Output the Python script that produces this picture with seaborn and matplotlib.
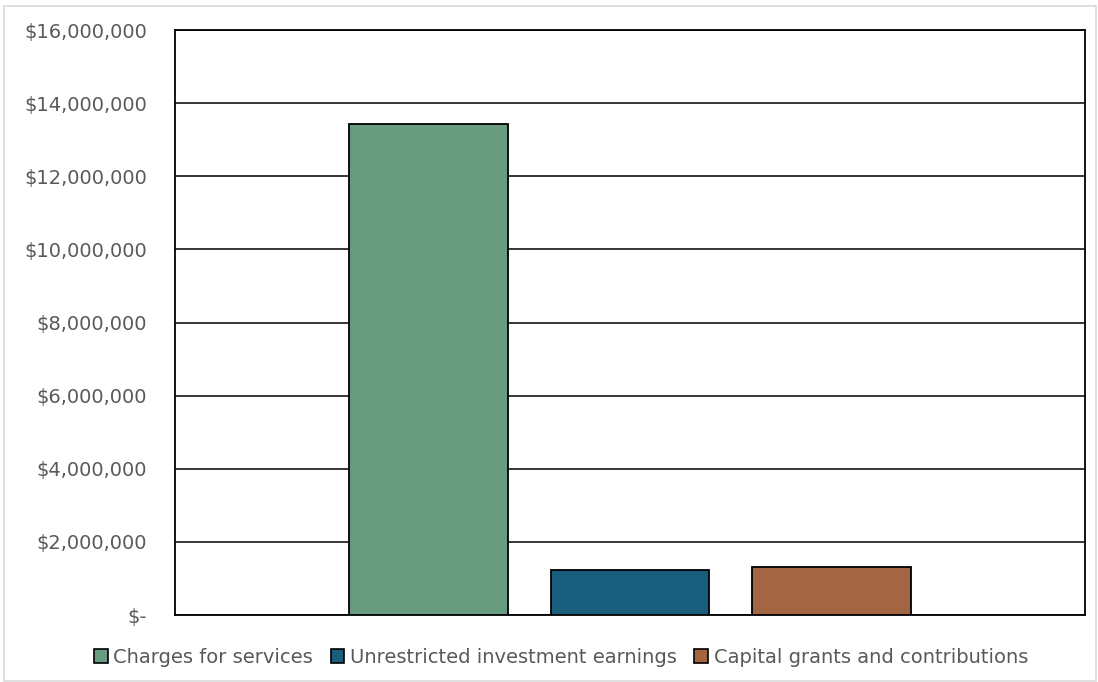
import matplotlib
matplotlib.use("Agg")
import matplotlib.pyplot as plt
import pandas as pd
import seaborn as sns
from matplotlib.patches import Rectangle
from matplotlib.ticker import FuncFormatter

# values
series = [
    "Charges for services",
    "Unrestricted investment earnings",
    "Capital grants and contributions",
]
amounts = [13_420_000, 1_230_000, 1_300_000]
colors = ["#699B81", "#1A5E7E", "#A36542"]
yticks = list(range(0, 16_000_001, 2_000_000))

df = pd.DataFrame({"group": [""] * len(series), "series": series, "amount": amounts})

sns.set_style("white")
plt.rcParams["font.family"] = ["DejaVu Sans"]
text_color = "#595959"

fig = plt.figure(figsize=(10.98, 6.82), dpi=100)
ax = fig.add_axes([0.1594, 0.0982, 0.8288, 0.8578])

sns.barplot(
    data=df, x="group", y="amount", hue="series", hue_order=series,
    palette=colors, saturation=1, width=0.663, gap=0.21,
    edgecolor="black", linewidth=1.3, legend=False, ax=ax, zorder=3,
)

ax.set_ylim(0, 16_000_000)
ax.set_xlim(-0.5, 0.5)
ax.set_yticks(yticks)
ax.yaxis.set_major_formatter(
    FuncFormatter(lambda v, p: "$-" if v == 0 else f"${v:,.0f}")
)
ax.grid(axis="y", color="black", linewidth=1.1, zorder=0)
ax.set_axisbelow(True)
ax.set_xticks([])
ax.set_xlabel("")
ax.set_ylabel("")
ax.tick_params(axis="y", length=0, pad=20, labelsize=14, labelcolor=text_color)
for s in ax.spines.values():
    s.set_color("black")
    s.set_linewidth(1.3)

handles = [
    Rectangle((0, 0), 1, 1, facecolor=c, edgecolor="black", linewidth=1.2)
    for c in colors
]
fig.legend(
    handles, series, loc="lower center", bbox_to_anchor=(0.511, -0.003),
    ncol=3, frameon=False, fontsize=14, labelcolor=text_color,
    handlelength=0.7, handleheight=0.7, handletextpad=0.3, columnspacing=0.9,
)

# light frame around the whole chart area
fig.patches.append(
    Rectangle((0.004, 0.001), 0.994, 0.99, transform=fig.transFigure,
              fill=False, edgecolor="#D9D9D9", linewidth=1.2)
)

fig.savefig("out.png", dpi=100)
